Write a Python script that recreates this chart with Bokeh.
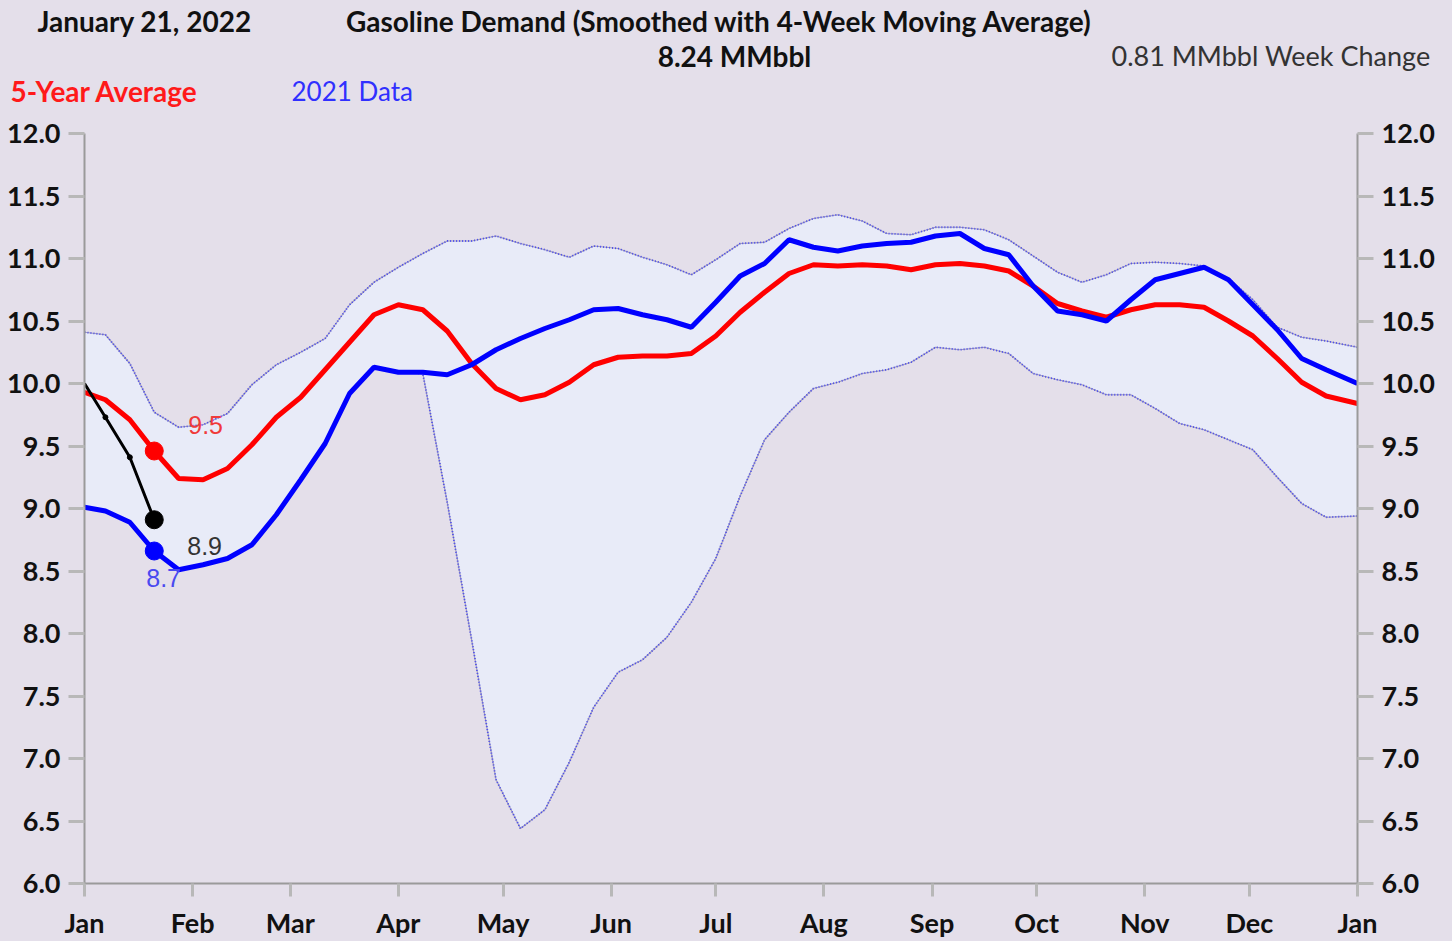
from bokeh.plotting import figure
from bokeh.layouts import column
from bokeh.models import Range1d, LinearAxis, FixedTicker, NumeralTickFormatter, Label
from bokeh.core.properties import value
from bokeh.embed import file_html
from bokeh.resources import INLINE

# ---------------- data ----------------
# x positions: day of year of each weekly reading (start, weekly points, year end)
days = [0] + [6 + 7 * k for k in range(51)] + [365]

avg5 = [9.93, 9.87, 9.71, 9.46, 9.24, 9.23, 9.32, 9.51, 9.73, 9.89,
        10.11, 10.33, 10.55, 10.63, 10.59, 10.42, 10.16, 9.96, 9.87, 9.91,
        10.01, 10.15, 10.21, 10.22, 10.22, 10.24, 10.38, 10.57, 10.73, 10.88,
        10.95, 10.94, 10.95, 10.94, 10.91, 10.95, 10.96, 10.94, 10.90, 10.78,
        10.64, 10.58, 10.53, 10.59, 10.63, 10.63, 10.61, 10.50, 10.38, 10.20,
        10.01, 9.90, 9.84]

data2021 = [9.01, 8.98, 8.89, 8.66, 8.51, 8.55, 8.60, 8.71, 8.95, 9.23,
            9.52, 9.92, 10.13, 10.09, 10.09, 10.07, 10.15, 10.27, 10.36, 10.44,
            10.51, 10.59, 10.60, 10.55, 10.51, 10.45, 10.65, 10.86, 10.96, 11.15,
            11.09, 11.06, 11.10, 11.12, 11.13, 11.18, 11.20, 11.08, 11.03, 10.78,
            10.58, 10.55, 10.50, 10.67, 10.83, 10.88, 10.93, 10.83, 10.63, 10.43,
            10.20, 10.11, 10.00]

band_high = [10.41, 10.39, 10.16, 9.77, 9.65, 9.67, 9.76, 9.99, 10.15, 10.25,
             10.36, 10.63, 10.81, 10.93, 11.04, 11.14, 11.14, 11.18, 11.12, 11.07,
             11.01, 11.10, 11.08, 11.01, 10.95, 10.87, 10.99, 11.12, 11.13, 11.24,
             11.32, 11.35, 11.30, 11.20, 11.19, 11.25, 11.25, 11.23, 11.15, 11.02,
             10.89, 10.81, 10.87, 10.96, 10.97, 10.96, 10.94, 10.84, 10.67, 10.45,
             10.37, 10.34, 10.29]

band_low = [9.01, 8.98, 8.89, 8.66, 8.51, 8.55, 8.60, 8.71, 8.95, 9.23,
            9.52, 9.92, 10.13, 10.09, 10.08, 9.05, 7.95, 6.83, 6.44, 6.59,
            6.97, 7.41, 7.69, 7.79, 7.97, 8.25, 8.60, 9.10, 9.55, 9.77,
            9.96, 10.01, 10.08, 10.11, 10.17, 10.29, 10.27, 10.29, 10.24, 10.08,
            10.03, 9.99, 9.91, 9.91, 9.80, 9.68, 9.63, 9.55, 9.47, 9.25,
            9.04, 8.93, 8.94]

days2022 = [0, 6, 13, 20]
data2022 = [10.00, 9.73, 9.41, 8.91]

month_days = [0, 31, 59, 90, 120, 151, 181, 212, 243, 273, 304, 334, 365]
month_labels = ["Jan", "Feb", "Mar", "Apr", "May", "Jun", "Jul", "Aug",
                "Sep", "Oct", "Nov", "Dec", "Jan"]
y_ticks = [6.0, 6.5, 7.0, 7.5, 8.0, 8.5, 9.0, 9.5, 10.0, 10.5, 11.0, 11.5, 12.0]

date_text = "January 21, 2022"
title_text = "Gasoline Demand  (Smoothed with 4-Week Moving Average)"
level_text = "8.24 MMbbl"
change_text = "0.81 MMbbl Week Change"
avg_legend = "5-Year Average"
data_legend = "2021 Data"

# ---------------- styling ----------------
BG = "#E4DFEA"
BAND = "#E8EBF8"
FONT = "Lato"
W = 1452
HEAD_H = 110

# ---- header strip (pixel-like coordinates, y downwards) ----
h = figure(width=W, height=HEAD_H, x_range=Range1d(0, W), y_range=Range1d(HEAD_H, 0),
           x_axis_type=None, y_axis_type=None, output_backend="svg",
           toolbar_location=None, min_border=0)
h.background_fill_color = BG
h.border_fill_color = BG
h.outline_line_color = None

def head(x, y, text, align, color="#111111", bold=True, size="28px"):
    h.text(x=[x], y=[y], text=[text], text_align=align, text_baseline="middle",
           text_font=value(FONT), text_font_style="bold" if bold else "normal",
           text_font_size=size, text_color=color)

head(37, 20, date_text, "left")
head(722, 20, title_text, "center")
head(734, 55, level_text, "center")
head(1430, 55, change_text, "right", color="#333333", bold=False, size="27px")
head(10, 90, avg_legend, "left", color="#ff1a1a")
head(291, 90, data_legend, "left", color="#3030ff", bold=False, size="26px")

# ---- main chart ----
p = figure(width=W, height=941 - HEAD_H,
           x_range=Range1d(0, 365), y_range=Range1d(6, 12),
           output_backend="svg", toolbar_location=None,
           min_border_left=84, min_border_right=95,
           min_border_top=133 - HEAD_H, min_border_bottom=57)
p.background_fill_color = BG
p.border_fill_color = BG
p.outline_line_color = None
p.grid.visible = False

for fig in (h, p):
    try:
        fig.frame_align = False
    except Exception:
        pass

p.xaxis.ticker = FixedTicker(ticks=month_days)
p.xaxis.major_label_overrides = {int(d): m for d, m in zip(month_days, month_labels)}
p.yaxis.ticker = FixedTicker(ticks=y_ticks)
p.yaxis.formatter = NumeralTickFormatter(format="0.0")

right_axis = LinearAxis(ticker=FixedTicker(ticks=y_ticks),
                        formatter=NumeralTickFormatter(format="0.0"))
p.add_layout(right_axis, "right")

def style_axis(ax, tick_out, standoff):
    ax.axis_line_color = "#9a9a9a"
    ax.axis_line_width = 2
    ax.major_tick_line_color = "#b8b8b8"
    ax.major_tick_line_width = 3
    ax.major_tick_in = 0
    ax.major_tick_out = tick_out
    ax.minor_tick_line_color = None
    ax.major_label_text_font = FONT
    ax.major_label_text_font_style = "bold"
    ax.major_label_text_font_size = "27px"
    ax.major_label_text_color = "#111111"
    ax.major_label_standoff = standoff

for ax in p.xaxis:
    style_axis(ax, 13, 9)
for ax in p.yaxis:
    style_axis(ax, 16, 8)

# band
p.varea(x=days, y1=band_low, y2=band_high, fill_color=BAND)
for band in (band_high, band_low):
    p.line(days, band, line_color="#a29eb8", line_width=1.2)
    p.line(days, band, line_color="#4a4af0", line_width=1.8, line_dash="1 2")

# series
p.line(days, avg5, line_color="#ff0000", line_width=5)
p.line(days, data2021, line_color="#0000ff", line_width=5)
p.line(days2022, data2022, line_color="#000000", line_width=3)
p.scatter(days2022[1:-1], data2022[1:-1], size=5, color="#000000")

cur = len(data2022) - 1
p.scatter([days[cur]], [avg5[cur]], size=18, color="#ff0000")
p.scatter([days[cur]], [data2021[cur]], size=18, color="#0000ff")
p.scatter([days2022[cur]], [data2022[cur]], size=18, color="#000000")

def val_label(x, y, color, dx, dy):
    p.add_layout(Label(x=x, y=y, text=f"{y:.1f}", x_offset=dx, y_offset=dy,
                       text_baseline="middle", text_align="left",
                       text_font="Liberation Sans", text_font_size="25px",
                       text_color=color))

val_label(days[cur], avg5[cur], "#f03a3a", 34, 26)
val_label(days2022[cur], data2022[cur], "#333333", 33, -26)
val_label(days[cur], data2021[cur], "#4a4af0", -8, -27)

layout = column(h, p, spacing=0)
html = file_html(layout, INLINE)
style = "<style>html, body { background-color: %s; }</style>" % BG
if "</head>" in html:
    html = html.replace("</head>", style + "</head>", 1)
else:
    html = style + html
open("out.html", "w").write(html)
